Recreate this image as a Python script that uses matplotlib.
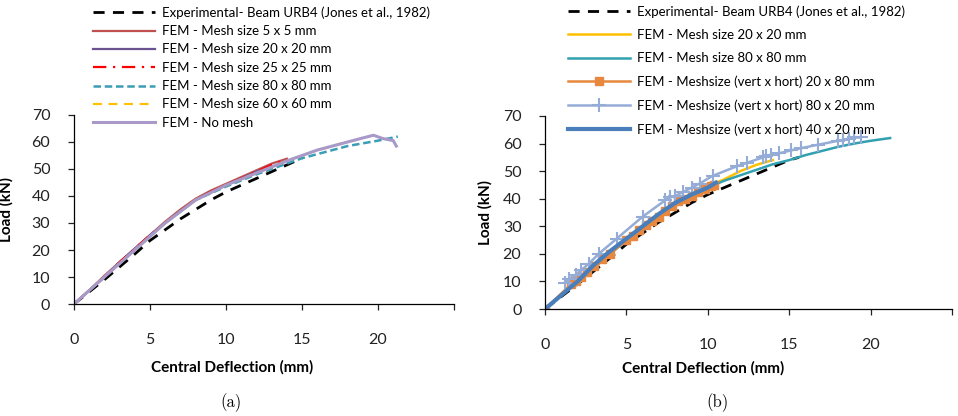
import numpy as np
import matplotlib.pyplot as plt

plt.rcParams['font.family'] = ['Lato', 'DejaVu Sans']

# ---- panel (a) data ----
exp_x = [0, 2, 4, 5, 6, 7, 8, 9, 10, 11, 12, 13, 14, 15]
exp_y = [0, 9, 18.5, 23.5, 27.5, 31.5, 35, 38.5, 41.5, 44, 46.5, 49, 51.5, 54]

m5_x = [0, 1, 2, 3, 4, 5, 6, 7, 8, 9, 10, 11, 12, 13, 14]
m5_y = [0, 5, 10.5, 15.5, 20.5, 25.5, 30.5, 35, 39, 42, 44.5, 47, 49.5, 52, 53.8]

m20_x = [0, 1, 2, 3, 4, 5, 6, 7, 8, 9, 10, 11, 12, 12.8]
m20_y = [0, 5, 10, 15.5, 20.5, 25.5, 30, 34.5, 38.5, 41.5, 44, 46.5, 49, 51]

m25_x = [0, 1, 2, 3, 4, 5, 6, 7, 8, 9, 10, 11, 12, 13, 14]
m25_y = [0, 5, 10, 15.5, 20.5, 25.5, 30, 34.5, 38.5, 41.5, 44, 46.5, 49, 51.5, 53.5]

m80_x = [0, 2, 4, 6, 8, 10, 12, 14, 15, 16, 17, 18, 19, 20, 21.3]
m80_y = [0, 10, 20, 30, 38.5, 43.5, 48, 52, 54, 55.5, 57, 58.5, 59.5, 60.5, 62]

m60_x = [0, 2, 4, 6, 8, 10, 12, 14, 15, 16, 17, 17.6]
m60_y = [0, 10, 20, 30, 38.5, 44, 48.5, 53, 55, 57, 58.5, 59.5]

nm_x = [0, 2, 4, 6, 8, 10, 12, 14, 15, 16, 17, 18, 19, 19.7, 20.3, 21.0, 21.2]
nm_y = [0, 10, 20, 30, 38.5, 44, 48.5, 53, 55, 57, 58.5, 60, 61.5, 62.5, 61.3, 60.5, 58.5]

# ---- panel (b) data ----
expb_x = [0, 2, 4, 5, 6, 7, 8, 9, 10, 11, 12, 13, 14, 15, 15.6]
expb_y = [0, 9, 18.5, 23.5, 27.5, 31.5, 35, 38.5, 41.5, 44, 46.5, 49, 51.5, 54, 55]

y20_x = [0, 2, 4, 6, 8, 10, 10.5, 11, 12, 13, 14]
y20_y = [0, 10, 20, 30, 38.5, 44, 45.8, 47, 50, 52.3, 54]

t80_x = [0, 2, 4, 6, 8, 10, 11, 12, 13, 14, 15, 16, 17, 18, 19, 20, 21.2]
t80_y = [0, 10, 20, 30, 38.5, 44, 46.5, 48.5, 50.5, 52.5, 54, 55.8, 57.3, 58.8, 60, 61, 62]

o2080_x = [0, 1.6, 1.9, 2.2, 2.6, 3.0, 3.5, 4.0, 5.0, 5.4, 5.8, 6.2, 6.6, 7.0,
           7.4, 7.8, 8.2, 8.6, 9.0, 9.4, 9.8, 10.2, 10.4]
o2080_y = [0, 9, 10, 11.5, 13.5, 15.5, 18, 20, 25, 26.5, 28.5, 30.5, 32, 33.5,
           35.5, 37.5, 39, 40, 41, 42.5, 43.5, 44.5, 45]

b8020_x = [1.2, 1.5, 1.9, 2.2, 2.7, 3.3, 4.4, 6.0, 7.4, 7.7, 8.0, 8.5, 9.0, 9.5,
           10.3, 11.8, 12.4, 13.4, 13.6, 13.9, 14.4, 15.1, 15.7, 16.8, 18.0,
           18.3, 18.7, 19.0, 19.4]
b8020_y = [9.5, 11, 12.5, 14, 16.5, 20, 25.5, 33.5, 39.5, 40.5, 41, 42.5, 44, 45.5,
           48.3, 51.8, 53, 55, 55.5, 56, 56.5, 57.5, 58.3, 59.6, 61,
           61.3, 61.8, 62.2, 62.2]

b4020_x = [0, 1, 2, 3, 4, 5, 6, 7, 8, 9, 10, 10.5]
b4020_y = [0, 5, 10, 16, 21, 25.5, 30, 34.5, 38.5, 41.5, 44, 45.8]

xticks = [0, 5, 10, 15, 20, 25]
xticklabels = ['0', '5', '10', '15', '20', '']
yticks = [0, 10, 20, 30, 40, 50, 60, 70]

fig = plt.figure(figsize=(9.58, 4.16), dpi=100)
axa = fig.add_axes([0.0772, 0.2692, 0.3968, 0.4544])
axb = fig.add_axes([0.5689, 0.2572, 0.4248, 0.4640])

axa.plot(exp_x, exp_y, color='black', ls=(0, (4, 3)), lw=2, label='Experimental- Beam URB4 (Jones et al., 1982)')
axa.plot(m5_x, m5_y, color='#C0504D', lw=1.6, label='FEM - Mesh size 5 x 5 mm')
axa.plot(m20_x, m20_y, color='#6B5391', lw=1.6, label='FEM - Mesh size 20 x 20 mm')
axa.plot(m25_x, m25_y, color='#FF0000', lw=1.6, ls=(0, (6, 3, 1, 3)), label='FEM - Mesh size 25 x 25 mm')
axa.plot(m80_x, m80_y, color='#3B9DB5', lw=1.8, ls=(0, (3, 1.5)), label='FEM - Mesh size 80 x 80 mm')
axa.plot(m60_x, m60_y, color='#FFC000', lw=1.6, ls=(0, (4, 3)), label='FEM - Mesh size 60 x 60 mm')
axa.plot(nm_x, nm_y, color='#A899C8', lw=2.2, label='FEM - No mesh')

axb.plot(expb_x, expb_y, color='black', ls=(0, (4, 3)), lw=2, label='Experimental- Beam URB4 (Jones et al., 1982)')
axb.plot(y20_x, y20_y, color='#FFC000', lw=1.8, label='FEM - Mesh size 20 x 20 mm')
axb.plot(t80_x, t80_y, color='#31A0B0', lw=1.8, label='FEM - Mesh size 80 x 80 mm')
axb.plot(o2080_x, o2080_y, color='#E8883F', lw=1.8, marker='s', ms=6, label='FEM - Meshsize (vert x hort) 20 x 80 mm')
axb.plot(b8020_x, b8020_y, color='#95ACD6', lw=1.8, marker='+', ms=10, mew=1.5, label='FEM - Meshsize (vert x hort) 80 x 20 mm')
axb.plot(b4020_x, b4020_y, color='#4A7EBB', lw=3, label='FEM - Meshsize (vert x hort) 40 x 20 mm')

for ax in (axa, axb):
    ax.set_xlim(0, 25)
    ax.set_ylim(0, 70)
    ax.set_xticks(xticks)
    ax.set_xticklabels(xticklabels)
    ax.set_yticks(yticks)
    for s in ('top', 'right'):
        ax.spines[s].set_visible(False)
    ax.spines['left'].set_linewidth(0.9)
    ax.spines['bottom'].set_linewidth(0.9)
    ax.tick_params(axis='x', length=4, width=0.9, pad=17, labelsize=11.5, colors='#222222')
    ax.tick_params(axis='y', length=4, width=0.9, pad=13, labelsize=11.5, colors='#222222')
    ax.set_xlabel('Central Deflection (mm)', fontsize=11, fontweight='bold')
    ax.set_ylabel('Load (kN)', fontsize=11, fontweight='bold')

axa.xaxis.set_label_coords(0.416, -0.296)
axb.xaxis.set_label_coords(0.388, -0.27)
axa.yaxis.set_label_coords(-0.16, 0.5)
axb.yaxis.set_label_coords(-0.128, 0.5)

axa.legend(loc='upper left', bbox_to_anchor=(88 / 958, 1 - 1 / 416), bbox_transform=fig.transFigure,
           frameon=False, fontsize=9.5, handlelength=4.7, handletextpad=0.5, labelspacing=0.48,
           borderaxespad=0)
axb.legend(loc='upper left', bbox_to_anchor=(563 / 958, 1 - 0 / 416), bbox_transform=fig.transFigure,
           frameon=False, fontsize=9.5, handlelength=4.7, handletextpad=0.5, labelspacing=0.85,
           numpoints=1, borderaxespad=0)

fig.text(231 / 958, 1 - 403 / 416, '(a)', family='cmr10', fontsize=12, ha='center', va='center')
fig.text(718 / 958, 1 - 403 / 416, '(b)', family='cmr10', fontsize=12, ha='center', va='center')

fig.savefig('out.png', dpi=100)
